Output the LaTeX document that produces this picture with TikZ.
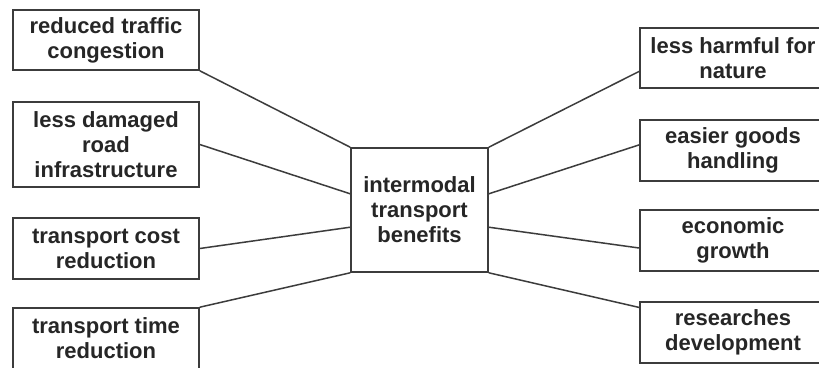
\documentclass[tikz,border=0pt]{standalone}
\usepackage{fontspec}
\setmainfont{Liberation Sans}
\usetikzlibrary{calc}
\definecolor{inkgray}{HTML}{262626}
\definecolor{linegray}{HTML}{3C3C3C}
\tikzset{
  benefit/.style={draw=linegray, line width=1.6pt, fill=white, align=center,
    minimum width=186pt, minimum height=61pt, inner sep=0pt,
    text=inkgray, font=\fontsize{22}{25}\selectfont\bfseries},
  hub/.style={benefit, minimum width=137pt, minimum height=124pt},
  link/.style={draw=linegray, line width=1.5pt}
}
\begin{document}
\begin{tikzpicture}[x=1pt, y=-1pt]
  \useasboundingbox (0,0) rectangle (819,367);
  \clip (0,0) rectangle (819,367);
  \fill[white] (0,0) rectangle (819,367);

  % central node
  \node[hub] (c) at (419.5,210) {intermodal\\transport\\benefits};

  % left column
  \node[benefit, minimum height=60pt] (l1) at (106,40) {reduced traffic\\congestion};
  \node[benefit, minimum height=85pt] (l2) at (106,144.5) {less damaged\\road\\infrastructure};
  \node[benefit] (l3) at (106,248.5) {transport cost\\reduction};
  \node[benefit] (l4) at (106,338.5) {transport time\\reduction};

  % right column
  \node[benefit, minimum height=60pt] (r1) at (733,58) {less harmful for\\nature};
  \node[benefit] (r2) at (733,150.5) {easier goods\\handling};
  \node[benefit] (r3) at (733,240.5) {economic\\growth};
  \node[benefit] (r4) at (733,332.5) {researches\\development};

  % connectors, left side
  \draw[link] (l1.south east) -- (c.north west);
  \draw[link] (l2.east) -- ($(c.north west)!0.371!(c.south west)$);
  \draw[link] (l3.east) -- ($(c.north west)!0.637!(c.south west)$);
  \draw[link] (l4.north east) -- (c.south west);

  % connectors, right side
  \draw[link] (c.north east) -- ($(r1.north west)!0.717!(r1.south west)$);
  \draw[link] ($(c.north east)!0.371!(c.south east)$) -- ($(r2.north west)!0.41!(r2.south west)$);
  \draw[link] ($(c.north east)!0.637!(c.south east)$) -- ($(r3.north west)!0.62!(r3.south west)$);
  \draw[link] (c.south east) -- ($(r4.north west)!0.1!(r4.south west)$);
\end{tikzpicture}
\end{document}
